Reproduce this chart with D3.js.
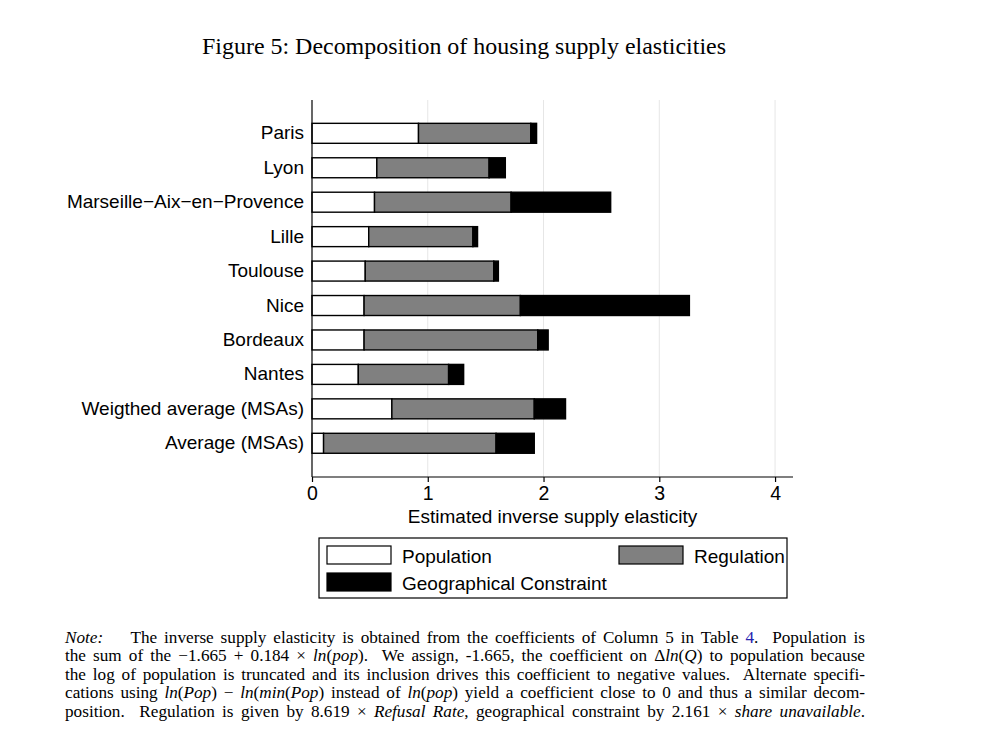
<!DOCTYPE html>
<html>
<head>
<meta charset="utf-8">
<script src="https://cdn.jsdelivr.net/npm/d3@7.9.0/dist/d3.min.js"></script>
<style>
  body { margin: 0; background: #fff; }
  #wrap { position: relative; width: 1000px; height: 740px; }
  #wrap svg { position: absolute; left: 0; top: 0; }
  #note {
    position: absolute; left: 65px; top: 629px; width: 800px;
    font-family: "Liberation Serif", "Times New Roman", serif;
    font-size: 17.2px; line-height: 18.4px; color: #000;
  }
  #note div { text-align: justify; text-align-last: justify; white-space: nowrap; }
  #note i { font-style: italic; }
  #note .ref { color: #2323b0; }
</style>
</head>
<body>
<div id="wrap"><div id="note"></div></div>
<script>
// city / aggregate labels (top to bottom)
const cities = [
  'Paris', 'Lyon', 'Marseille\u2212Aix\u2212en\u2212Provence', 'Lille', 'Toulouse',
  'Nice', 'Bordeaux', 'Nantes', 'Weigthed average (MSAs)', 'Average (MSAs)'
];
// components of the inverse supply elasticity
const population = [0.92, 0.56, 0.54, 0.49, 0.46, 0.45, 0.45, 0.40, 0.69, 0.10];
const regulation = [0.97, 0.97, 1.18, 0.90, 1.11, 1.35, 1.50, 0.78, 1.23, 1.49];
const geography  = [0.05, 0.14, 0.86, 0.04, 0.04, 1.46, 0.09, 0.13, 0.27, 0.33];

const series = ['Population', 'Regulation', 'Geographical Constraint'];
const fills = ['#ffffff', '#808080', '#000000'];
const xTicks = [0, 1, 2, 3, 4];

const rows = cities.map((c, i) => ({
  city: c,
  Population: population[i],
  Regulation: regulation[i],
  'Geographical Constraint': geography[i],
}));

const width = 1000, height = 740;
const svg = d3.select('#wrap').insert('svg', '#note')
  .attr('width', width).attr('height', height);

// title
svg.append('text')
  .attr('x', 202).attr('y', 54)
  .attr('textLength', 524).attr('lengthAdjust', 'spacingAndGlyphs')
  .style('font-family', '"Liberation Serif", serif')
  .style('font-size', '23.5px')
  .text('Figure 5: Decomposition of housing supply elasticities');

const plot = { left: 312, right: 793, top: 100, bottom: 477 };

const x = d3.scaleLinear().domain([0, 4.155]).range([plot.left, plot.right]);
const y = d3.scaleBand().domain(cities)
  .range([116.1, 460.5]).paddingInner(0.42).paddingOuter(0.21);

const sans = '"Liberation Sans", Arial, Helvetica, sans-serif';

// gridlines
svg.append('g').selectAll('line')
  .data(xTicks.slice(1))
  .join('line')
  .attr('x1', d => x(d)).attr('x2', d => x(d))
  .attr('y1', plot.top).attr('y2', plot.bottom)
  .attr('stroke', '#e6e6e6').attr('stroke-width', 1);

// stacked bars
const stacked = d3.stack().keys(series)(rows);
svg.append('g').selectAll('g')
  .data(stacked)
  .join('g')
  .attr('fill', (d, i) => fills[i])
  .selectAll('rect')
  .data(d => d)
  .join('rect')
  .attr('x', d => x(d[0]))
  .attr('width', d => x(d[1]) - x(d[0]))
  .attr('y', d => y(d.data.city))
  .attr('height', y.bandwidth())
  .attr('stroke', '#000')
  .attr('stroke-width', 1.4);

// x axis
const xAxis = svg.append('g')
  .attr('transform', `translate(0,${plot.bottom})`)
  .call(d3.axisBottom(x).tickValues(xTicks).tickFormat(d3.format('d')).tickSizeOuter(0).tickSize(5).tickPadding(4));
xAxis.select('.domain').remove();
xAxis.append('line')
  .attr('x1', plot.left).attr('x2', plot.right)
  .attr('stroke', '#000').attr('stroke-width', 1.2);
xAxis.selectAll('.tick line').attr('stroke', '#000').attr('stroke-width', 1.2);
xAxis.selectAll('text')
  .style('font-family', sans).style('font-size', '19.5px').attr('fill', '#000');

// y axis
const yAxis = svg.append('g')
  .attr('transform', `translate(${plot.left},0)`)
  .call(d3.axisLeft(y).tickSize(0).tickPadding(8));
yAxis.select('.domain').remove();
yAxis.append('line')
  .attr('y1', plot.top).attr('y2', plot.bottom)
  .attr('stroke', '#000').attr('stroke-width', 1.2);
yAxis.selectAll('text')
  .style('font-family', sans).style('font-size', '19px').attr('fill', '#000');

// axis title
svg.append('text')
  .attr('x', (plot.left + plot.right) / 2).attr('y', 523)
  .attr('text-anchor', 'middle')
  .style('font-family', sans).style('font-size', '19px')
  .text('Estimated inverse supply elasticity');

// legend
const legend = svg.append('g');
legend.append('rect')
  .attr('x', 319).attr('y', 538).attr('width', 468).attr('height', 60)
  .attr('fill', 'none').attr('stroke', '#000').attr('stroke-width', 1.2);
const legendPos = [[327, 546], [619, 546], [327, 573]];
series.forEach((s, i) => {
  const [lx, ly] = legendPos[i];
  legend.append('rect')
    .attr('x', lx).attr('y', ly).attr('width', 64).attr('height', 18)
    .attr('fill', fills[i]).attr('stroke', '#000').attr('stroke-width', 1.2);
  legend.append('text')
    .attr('x', lx + 75).attr('y', ly + 16.5)
    .style('font-family', sans).style('font-size', '19px')
    .text(s);
});

// note under the figure
const noteLines = [
  '<i>Note:</i>&nbsp;&nbsp;&nbsp; The inverse supply elasticity is obtained from the coefficients of Column 5 in Table <span class="ref">4</span>.&nbsp; Population is',
  'the sum of the \u22121.665 + 0.184 \u00d7 <i>ln</i>(<i>pop</i>).&nbsp; We assign, -1.665, the coefficient on \u0394<i>ln</i>(<i>Q</i>) to population because',
  'the log of population is truncated and its inclusion drives this coefficient to negative values.&nbsp; Alternate specifi-',
  'cations using <i>ln</i>(<i>Pop</i>) \u2212 <i>ln</i>(<i>min</i>(<i>Pop</i>) instead of <i>ln</i>(<i>pop</i>) yield a coefficient close to 0 and thus a similar decom-',
  'position.&nbsp; Regulation is given by 8.619 \u00d7 <i>Refusal Rate</i>, geographical constraint by 2.161 \u00d7 <i>share unavailable</i>.'
];
d3.select('#note').selectAll('div')
  .data(noteLines)
  .join('div')
  .html(d => d);
</script>
</body>
</html>
